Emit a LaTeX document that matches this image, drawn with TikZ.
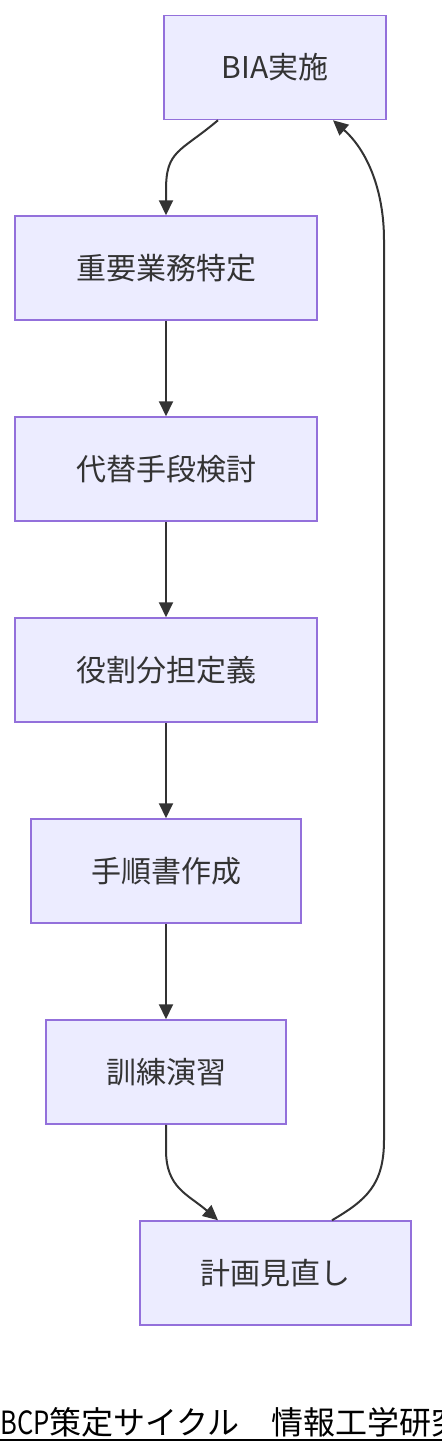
\documentclass[tikz,border=0pt]{standalone}
\usepackage{fontspec}
\setmainfont{Noto Sans CJK JP}
\usetikzlibrary{arrows.meta}
\definecolor{boxfill}{HTML}{ECECFF}
\definecolor{boxdraw}{HTML}{9370DB}
\definecolor{ink}{HTML}{333333}
\tikzset{
  stepbox/.style={draw=boxdraw, fill=boxfill, line width=1.5pt, text=ink,
    minimum height=104pt, inner sep=0pt,
    font=\fontsize{30}{36}\selectfont},
  flow/.style={draw=ink, line width=2pt, -{Triangle[length=15pt,width=14pt]}},
}
\begin{document}
\begin{tikzpicture}[x=1pt,y=-1pt]
\useasboundingbox (0,0) rectangle (442,1452);
\clip (0,0) rectangle (442,1452);
\node[stepbox, minimum width=222pt] (n1) at (275,67.5) {BIA実施};
\node[stepbox, minimum width=302pt] (n2) at (166,268) {重要業務特定};
\node[stepbox, minimum width=302pt] (n3) at (166,469) {代替手段検討};
\node[stepbox, minimum width=302pt] (n4) at (166,670) {役割分担定義};
\node[stepbox, minimum width=270pt] (n5) at (166,871) {手順書作成};
\node[stepbox, minimum width=240pt] (n6) at (166,1072) {訓練演習};
\node[stepbox, minimum width=271pt] (n7) at (275.5,1273) {計画見直し};

\coordinate (a1) at (166,190);
\coordinate (a6) at (166,1150);
\draw[flow] ([xshift=-57pt]n1.south) .. controls +(-38,32) and +(0,-40) .. (a1) -- (n2.north);
\draw[flow] (n2) -- (n3);
\draw[flow] (n3) -- (n4);
\draw[flow] (n4) -- (n5);
\draw[flow] (n5) -- (n6);
\draw[flow] (n6.south) -- (a6) .. controls +(0,38) and +(-30,-26) .. ([xshift=-57.5pt]n7.north);
\coordinate (r1) at (384,1140);
\coordinate (r2) at (384,240);
\draw[flow] ([xshift=56.5pt]n7.north) .. controls +(34,-20) and +(0,45) .. (r1) -- (r2) .. controls +(0,-50) and +(34,30) .. ([xshift=58pt]n1.south);

\node[anchor=base west, inner sep=0pt, text=black, font=\fontsize{32}{36}\selectfont] (cap) at (0,1434) {\scalebox{0.8}[1]{BCP}策定サイクル　情報工学研究室};
\draw[line width=2pt] (0,1440) -- (442,1440);
\end{tikzpicture}
\end{document}
